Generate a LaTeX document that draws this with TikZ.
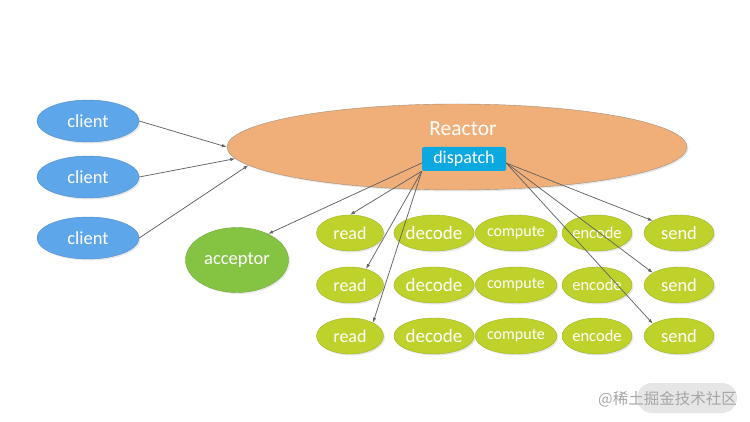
\documentclass[tikz,border=0pt]{standalone}
\usepackage{fontspec}
\setmainfont{Carlito}
\newfontfamily\cjkfont{Noto Sans CJK SC}
\usetikzlibrary{shapes.geometric, shadows, arrows.meta}

\definecolor{clientblue}{RGB}{93,166,234}
\definecolor{reactororange}{RGB}{240,175,120}
\definecolor{dispatchblue}{RGB}{12,168,224}
\definecolor{acceptorgreen}{RGB}{133,196,67}
\definecolor{taskgreen}{RGB}{190,210,43}
\definecolor{linkgray}{RGB}{100,100,100}

\begin{document}
\begin{tikzpicture}[x=1pt, y=-1pt,
    blob/.style={ellipse, inner sep=0pt, text=white, fill=#1, draw=#1!85!black, line width=0.4pt,
        drop shadow={opacity=0.18, shadow xshift=1.5pt, shadow yshift=-1.5pt}},
    link/.style={-{Latex[length=5pt, width=3.5pt]}, draw=linkgray, line width=0.75pt}]
    % Fix the canvas to the reference size
    \useasboundingbox (0,0) rectangle (750,422);

    % The three clients on the left
    \foreach \i/\y in {1/121, 2/177, 3/238}
        \node[blob=clientblue, minimum width=102pt, minimum height=42pt,
              font=\fontsize{18.5}{18.5}\selectfont] (client\i) at (88,\y) {client};

    % The reactor with its dispatcher
    \node[blob=reactororange, draw=gray!70!reactororange, minimum width=460pt, minimum height=86pt] (reactor) at (457,147) {};
    \node[text=white, font=\fontsize{21.5}{21.5}\selectfont] (title) at (463,129) {Reactor};
    \node[fill=dispatchblue, rounded corners=2pt, text=white, minimum width=84pt, minimum height=24pt,
          inner sep=0pt, font=\fontsize{18}{18}\selectfont] (dispatch) at (464,159) {dispatch};

    % Acceptor
    \node[blob=acceptorgreen, minimum width=103pt, minimum height=65pt,
          font=\fontsize{18.5}{18.5}\selectfont] (acceptor) at (237,260) {acceptor};

    % Handler grid: one column per stage, one row per connection
    \foreach \task/\x/\w/\fs in {read/350/67/18, decode/434/68/19, compute/516/69/16, encode/597/70/16.5, send/679/70/18.5}
        \foreach \row/\y in {1/233, 2/285, 3/336}
            \node[blob=taskgreen, minimum width=\w pt, minimum height=36pt,
                  font=\fontsize{\fs}{\fs}\selectfont] (\task\row) at (\x,\y) {\task};

    % Clients connect to the reactor
    \draw[link] (client1.east) -- (reactor.west);
    \draw[link] (client2.east) -- (reactor.183);
    \draw[link] (client3.east) -- (reactor.185);

    % Dispatch hands events out
    \draw[link] ([yshift=-4pt]dispatch.west) -- (acceptor.40);
    \draw[link] (dispatch.south west) -- (read1.north);
    \draw[link] (dispatch.south west) -- (read2.45);
    \draw[link] (dispatch.south west) -- (read3.30);
    \foreach \row in {1, 2, 3}
        \draw[link] ([yshift=-4pt]dispatch.east) -- (send\row.155);

    % Watermark
    \node[fill=gray!22, rounded corners=15pt, minimum width=100pt, minimum height=30pt, opacity=0.9] (badge) at (687,398) {};
    \node[anchor=east, text=gray!70, inner sep=0pt, font=\cjkfont\fontsize{15.5}{15.5}\selectfont] (mark) at (737,399) {@稀土掘金技术社区};
\end{tikzpicture}
\end{document}
